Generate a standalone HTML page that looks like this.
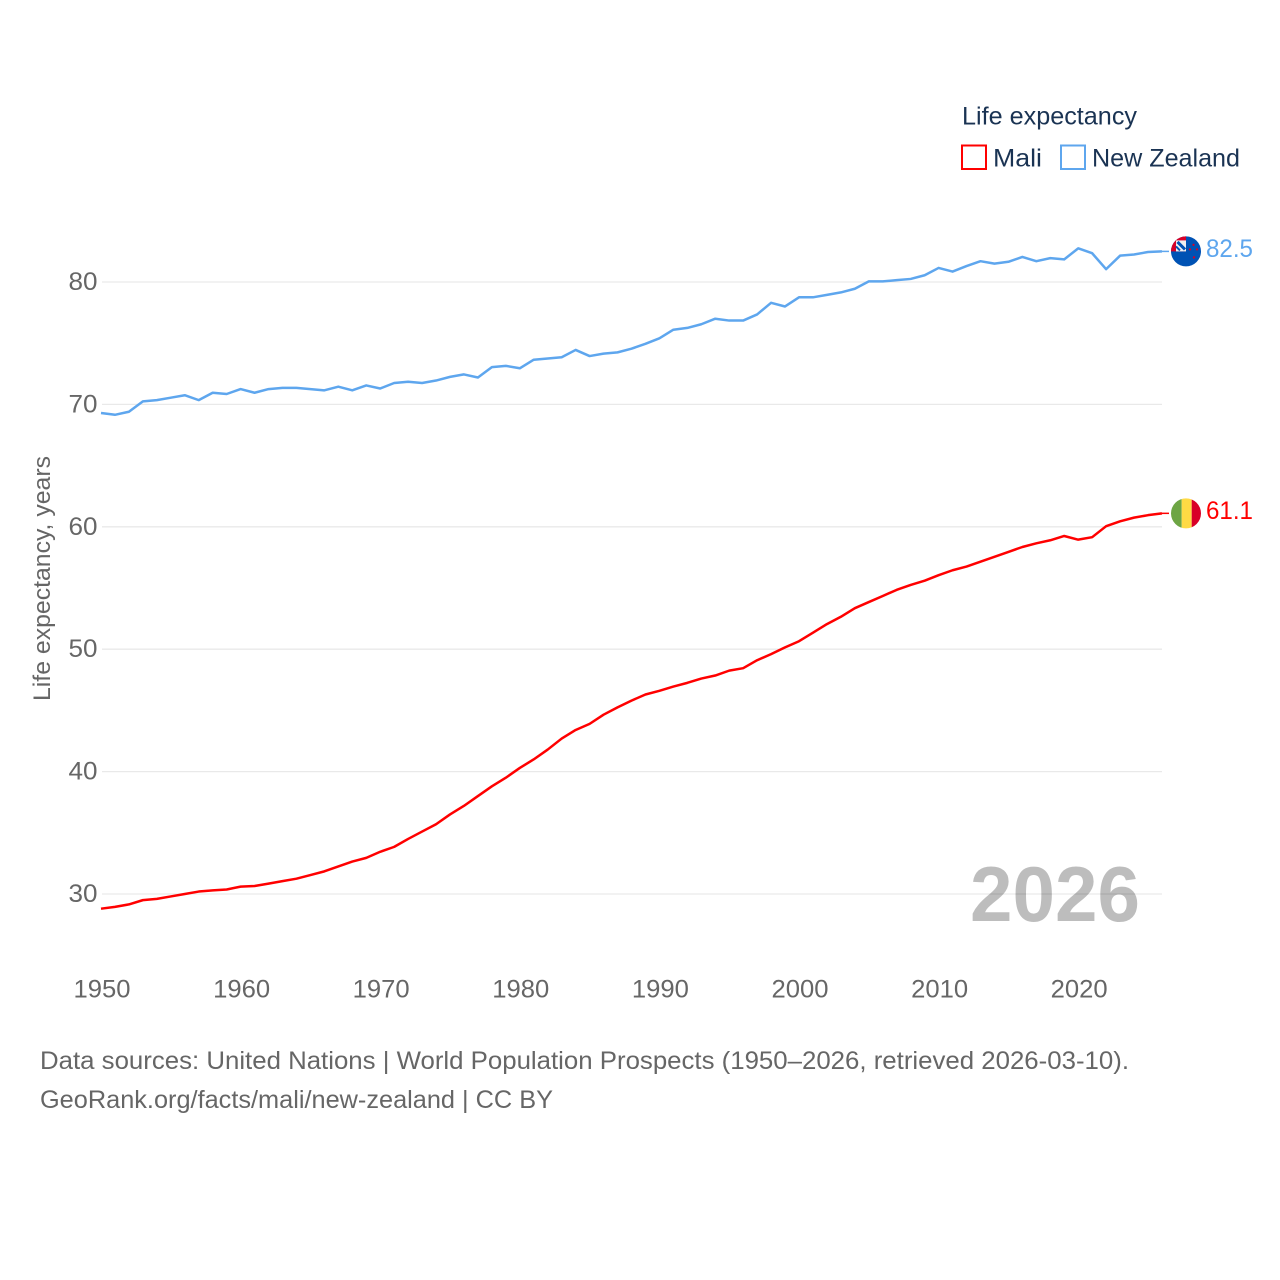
<!DOCTYPE html>
<html lang="en">
<head>
<meta charset="utf-8">
<title>Life expectancy: Mali and New Zealand</title>
<style>
html,body{margin:0;padding:0;background:#fff;}
svg{display:block;font-family:"Liberation Sans",sans-serif;}
</style>
</head>
<body>
<svg id="chart" xmlns="http://www.w3.org/2000/svg" width="1280" height="1280" viewBox="0 0 1280 1280">
  <defs>
    <clipPath id="clip-nz"><circle cx="1186" cy="251" r="15"></circle></clipPath>
    <clipPath id="clip-ml"><circle cx="1186" cy="513" r="15"></circle></clipPath>
  </defs>
  <rect width="1280" height="1280" fill="#fff"></rect>
  <g id="grid"></g>
  <g id="y-ticks"></g>
  <g id="x-ticks"></g>
  <text transform="translate(50,578.5) rotate(-90)" text-anchor="middle" font-size="24" fill="#666" textLength="245" lengthAdjust="spacingAndGlyphs">Life expectancy, years</text>
  <g id="series"></g>
  <text x="970" y="921" font-size="78" font-weight="700" fill="#000" fill-opacity="0.26" textLength="170" lengthAdjust="spacingAndGlyphs">2026</text>

  <g id="flag-nz">
    <g clip-path="url(#clip-nz)">
      <rect x="1170" y="235" width="32" height="32" fill="#0052b4"></rect>
      <rect x="1170" y="235" width="16" height="16" fill="#d80027"></rect>
      <rect x="1176" y="240" width="10" height="11" fill="#f0f0f0"></rect>
      <path d="M1177.5 241.5l7.5 7.5" stroke="#0052b4" stroke-width="3" fill="none"></path>
      <path d="M1176 246l4 4" stroke="#0052b4" stroke-width="2" fill="none"></path>
      <circle cx="1193.5" cy="244.5" r="1.1" fill="#d80027"></circle>
      <circle cx="1190" cy="249" r="1.1" fill="#d80027"></circle>
      <circle cx="1197" cy="249" r="1.1" fill="#d80027"></circle>
      <circle cx="1194" cy="257" r="1.2" fill="#d80027"></circle>
    </g>
  </g>
  <g id="flag-ml">
    <g clip-path="url(#clip-ml)">
      <rect x="1170" y="497" width="11.7" height="32" fill="#6da544"></rect>
      <rect x="1181.7" y="497" width="10" height="32" fill="#ffda44"></rect>
      <rect x="1191.7" y="497" width="10.3" height="32" fill="#d80027"></rect>
    </g>
  </g>
  <g id="value-labels"></g>

  <g>
    <text x="962" y="124.5" font-size="25" fill="#1a3353" textLength="175" lengthAdjust="spacingAndGlyphs">Life expectancy</text>
    <rect x="962" y="145.5" width="24" height="23.5" fill="#fff" stroke="#ff0000" stroke-width="2"></rect>
    <text x="993" y="166.5" font-size="25" fill="#1a3353" textLength="49" lengthAdjust="spacingAndGlyphs">Mali</text>
    <rect x="1061" y="145.5" width="24" height="23.5" fill="#fff" stroke="#5ea6ee" stroke-width="2"></rect>
    <text x="1092" y="166.5" font-size="25" fill="#1a3353" textLength="148" lengthAdjust="spacingAndGlyphs">New Zealand</text>
  </g>

  <text x="40" y="1069" font-size="25" fill="#666" textLength="1089" lengthAdjust="spacingAndGlyphs">Data sources: United Nations | World Population Prospects (1950–2026, retrieved 2026-03-10).</text>
  <text x="40" y="1108" font-size="25" fill="#666" textLength="513" lengthAdjust="spacingAndGlyphs">GeoRank.org/facts/mali/new-zealand | CC BY</text>
</svg>
<script>
var startYear = 1950;
var xTickLabels = [1950,1960,1970,1980,1990,2000,2010,2020];
var yTickLabels = [30,40,50,60,70,80];
var maliValues = [28.8,28.95,29.15,29.5,29.6,29.8,30.0,30.2,30.3,30.37,30.6,30.65,30.85,31.05,31.25,31.55,31.85,32.25,32.65,32.95,33.45,33.85,34.5,35.1,35.7,36.5,37.2,38.0,38.8,39.5,40.3,41.0,41.8,42.7,43.4,43.9,44.65,45.25,45.8,46.3,46.6,46.95,47.25,47.6,47.85,48.25,48.45,49.1,49.6,50.15,50.65,51.35,52.05,52.65,53.35,53.85,54.35,54.85,55.25,55.6,56.05,56.45,56.75,57.15,57.55,57.95,58.35,58.65,58.9,59.25,58.95,59.15,60.05,60.45,60.75,60.95,61.1];
var newZealandValues = [69.3,69.15,69.4,70.25,70.35,70.55,70.75,70.35,70.95,70.85,71.25,70.95,71.25,71.35,71.35,71.25,71.15,71.45,71.15,71.55,71.3,71.75,71.85,71.75,71.95,72.25,72.45,72.2,73.05,73.15,72.95,73.65,73.75,73.85,74.45,73.95,74.15,74.25,74.55,74.95,75.4,76.1,76.25,76.55,77.0,76.85,76.85,77.35,78.3,78.0,78.75,78.75,78.95,79.15,79.45,80.05,80.05,80.15,80.25,80.55,81.15,80.85,81.3,81.7,81.5,81.65,82.05,81.7,81.95,81.85,82.75,82.35,81.05,82.15,82.25,82.45,82.5];

var NS = 'http://www.w3.org/2000/svg';
function xScale(year){ return 101 + (year - 1950) * 13.96; }
function yScale(v){ return 282 + (80 - v) * 12.24; }
function make(tag, parentId, attrs, text){
  var el = document.createElementNS(NS, tag);
  for (var k in attrs) el.setAttribute(k, attrs[k]);
  if (text !== undefined) el.textContent = text;
  document.getElementById(parentId).appendChild(el);
  return el;
}

yTickLabels.forEach(function(v){
  var line = make('line', 'grid', {x1: 102, x2: 1162, y1: yScale(v), y2: yScale(v), stroke: '#e9e9e9', 'stroke-width': 1.3});
  
  
  var label = make('text', 'y-ticks', {x: 97.5, y: yScale(v) + 8, 'text-anchor': 'end', 'font-size': 25, fill: '#666', textLength: 29, lengthAdjust: 'spacingAndGlyphs'}, String(v));
  
  
});

xTickLabels.forEach(function(y){
  var label = make('text', 'x-ticks', {x: xScale(y) + 1, y: 997.5, 'text-anchor': 'middle', 'font-size': 25, fill: '#666', textLength: 57, lengthAdjust: 'spacingAndGlyphs'}, String(y));
  
  
});

function pathFor(values){
  return values.map(function(v, i){
    return (i ? 'L' : 'M') + xScale(startYear + i).toFixed(2) + ' ' + yScale(v).toFixed(2);
  }).join('');
}
var lastIndex = maliValues.length - 1;
var maliLast = maliValues[lastIndex];
var nzLast = newZealandValues[newZealandValues.length - 1];
var lastX = xScale(startYear + lastIndex);

var maliLine = make('path', 'series', {d: pathFor(maliValues), fill: 'none', stroke: '#ff0000', 'stroke-width': 2.5, 'stroke-linejoin': 'round'});



var nzLine = make('path', 'series', {d: pathFor(newZealandValues), fill: 'none', stroke: '#5ea6ee', 'stroke-width': 2.5, 'stroke-linejoin': 'round'});



var maliConnector = make('line', 'series', {x1: lastX, x2: 1169, y1: yScale(maliLast), y2: yScale(maliLast), stroke: '#ff0000', 'stroke-width': 1.5});



var nzConnector = make('line', 'series', {x1: lastX, x2: 1169, y1: yScale(nzLast), y2: yScale(nzLast), stroke: '#5ea6ee', 'stroke-width': 1.5});



var maliLabel = make('text', 'value-labels', {x: 1206, y: yScale(maliLast) + 5.5, 'font-size': 25, fill: '#ff0000', textLength: 47, lengthAdjust: 'spacingAndGlyphs'}, maliLast.toFixed(1));



var nzLabel = make('text', 'value-labels', {x: 1206, y: yScale(nzLast) + 5.5, 'font-size': 25, fill: '#5ea6ee', textLength: 47, lengthAdjust: 'spacingAndGlyphs'}, nzLast.toFixed(1));



document.getElementById('flag-nz').setAttribute('transform', 'translate(0,' + (yScale(nzLast) - 251) + ')');
document.getElementById('flag-ml').setAttribute('transform', 'translate(0,' + (yScale(maliLast) - 513) + ')');
</script>
</body>
</html>
